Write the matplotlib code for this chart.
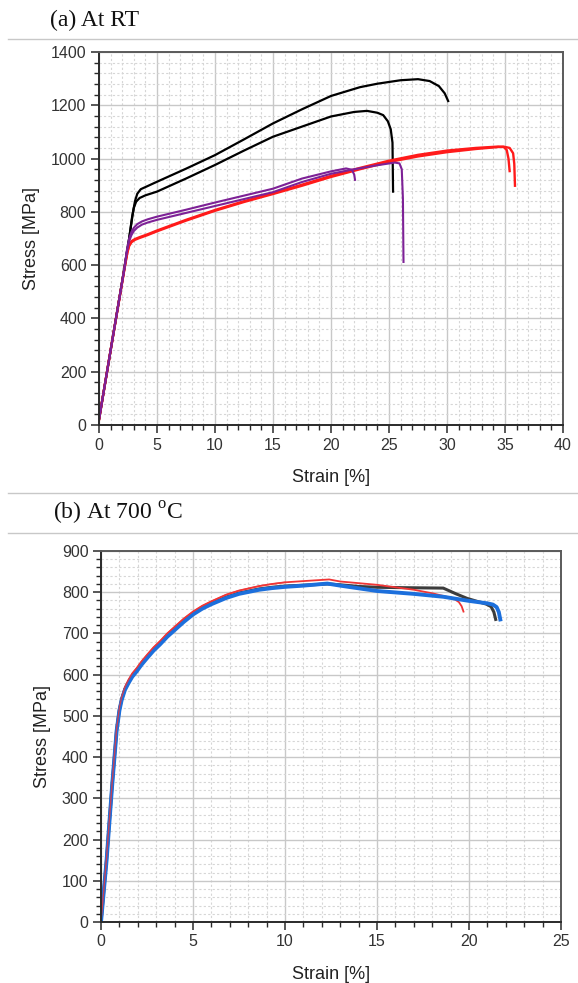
import matplotlib
matplotlib.use("Agg")
import matplotlib.pyplot as plt
from matplotlib.ticker import MultipleLocator
from matplotlib.lines import Line2D

plt.rcParams['font.family'] = ['Liberation Sans', 'DejaVu Sans']
plt.rcParams['mathtext.fontset'] = 'custom'
plt.rcParams['mathtext.rm'] = 'Liberation Serif'

# ---------------- (a) At RT ----------------
rt_black1_x = [0, 1.0, 2.0, 2.6, 2.9, 3.1, 3.3, 3.6, 4.0, 5.0, 7.5, 10, 12.5, 15, 17.5, 20, 22.5, 24, 26, 27.5, 28.5, 29.3, 29.8, 30.1]
rt_black1_y = [20, 280, 540, 700, 790, 840, 868, 885, 893, 913, 962, 1013, 1072, 1132, 1185, 1235, 1268, 1281, 1294, 1298, 1291, 1272, 1245, 1216]

rt_black2_x = [0, 1.0, 2.0, 2.6, 2.85, 3.0, 3.2, 3.5, 4.0, 5.0, 7.5, 10, 12.5, 15, 17.5, 20, 22.0, 23.1, 24.0, 24.5, 24.9, 25.15, 25.3, 25.35]
rt_black2_y = [20, 280, 540, 700, 780, 815, 838, 852, 862, 876, 925, 976, 1030, 1082, 1120, 1158, 1175, 1179, 1172, 1163, 1140, 1110, 1060, 876]

rt_purple1_x = [0, 1.0, 2.2, 2.4, 2.6, 2.8, 3.0, 3.3, 3.7, 4.2, 5.0, 7.5, 10, 12.5, 15, 17.5, 20, 21.3, 21.8, 22.0, 22.07]
rt_purple1_y = [20, 280, 590, 655, 700, 725, 740, 754, 764, 772, 782, 808, 835, 861, 887, 925, 952, 963, 958, 940, 920]

rt_purple2_x = [0, 1.0, 2.2, 2.4, 2.6, 2.8, 3.0, 3.3, 3.7, 4.2, 5.0, 7.5, 10, 12.5, 15, 17.5, 20, 22.0, 24.0, 25.5, 25.9, 26.1, 26.2, 26.25]
rt_purple2_y = [20, 280, 590, 650, 690, 713, 728, 741, 752, 760, 770, 796, 822, 848, 874, 912, 943, 960, 975, 985, 982, 960, 850, 612]

rt_red1_x = [0, 1.0, 2.24, 2.45, 2.6, 2.8, 3.1, 3.5, 4.2, 5.0, 7.5, 10, 12.5, 15, 17.5, 20, 22.5, 25, 27.5, 30, 32.5, 34.4, 34.9, 35.15, 35.3, 35.4]
rt_red1_y = [20, 280, 598, 650, 675, 690, 698, 705, 716, 730, 770, 807, 840, 870, 902, 935, 965, 992, 1014, 1030, 1040, 1045, 1043, 1032, 1000, 953]

rt_red2_x = [0, 1.0, 2.24, 2.45, 2.6, 2.8, 3.1, 3.5, 4.2, 5.0, 7.5, 10, 12.5, 15, 17.5, 20, 22.5, 25, 27.5, 30, 32.5, 34.85, 35.4, 35.7, 35.8, 35.86]
rt_red2_y = [20, 280, 598, 648, 672, 686, 695, 702, 713, 727, 767, 804, 837, 867, 898, 931, 960, 987, 1008, 1024, 1036, 1045, 1040, 1020, 980, 898]

# ---------------- (b) At 700 C ----------------
ht_gray_x = [0, 0.3, 0.6, 0.85, 1.0, 1.12, 1.3, 1.5, 1.7, 1.94, 2.2, 2.5, 2.85, 3.2, 3.6, 4.0, 4.5, 5.0, 5.5, 6.0, 6.8, 7.5, 8.6, 9.3, 10, 11, 12.3, 13, 14, 15, 16.5, 18.6, 19.3, 19.9, 20.5, 20.95, 21.2, 21.35, 21.45]
ht_gray_y = [0, 150, 330, 466, 515, 540, 565, 582, 597, 610, 626, 642, 660, 675, 694, 710, 730, 748, 762, 773, 788, 798, 808, 812, 815, 817, 820, 818, 814, 812, 811, 810, 796, 785, 777, 771, 765, 752, 734]

ht_red_x = [0, 0.3, 0.6, 0.85, 1.0, 1.12, 1.3, 1.5, 1.7, 1.94, 2.2, 2.5, 2.85, 3.2, 3.6, 4.0, 4.5, 5.0, 5.5, 6.0, 6.8, 7.5, 8.6, 9.3, 10, 11, 12.4, 13, 15, 17, 18.05, 19.15, 19.45, 19.6, 19.7]
ht_red_y = [0, 155, 335, 470, 520, 545, 570, 588, 603, 616, 632, 648, 666, 681, 700, 716, 736, 753, 767, 778, 794, 804, 815, 820, 824, 827, 831, 826, 818, 806, 797, 785, 776, 766, 753]

ht_blue_x = [0, 0.3, 0.6, 0.85, 1.0, 1.12, 1.3, 1.5, 1.7, 1.94, 2.2, 2.5, 2.85, 3.2, 3.6, 4.0, 4.5, 5.0, 5.5, 6.0, 6.8, 7.5, 8.6, 9.3, 10, 11, 12.3, 13, 15, 17, 18.6, 20, 21.0, 21.3, 21.5, 21.62, 21.7]
ht_blue_y = [0, 148, 328, 464, 513, 538, 563, 580, 595, 608, 624, 640, 658, 673, 692, 708, 728, 746, 760, 771, 786, 796, 806, 810, 813, 816, 821, 816, 803, 796, 789, 779, 773, 770, 764, 752, 734]

W, H = 578, 983
fig = plt.figure(figsize=(W / 100, H / 100), dpi=100)

def style_axes(ax, xmax, ymax, xmaj, ymaj, xmin, ymin):
    ax.set_xlim(0, xmax)
    ax.set_ylim(0, ymax)
    ax.xaxis.set_major_locator(MultipleLocator(xmaj))
    ax.yaxis.set_major_locator(MultipleLocator(ymaj))
    ax.xaxis.set_minor_locator(MultipleLocator(xmin))
    ax.yaxis.set_minor_locator(MultipleLocator(ymin))
    ax.grid(which='major', color='#c8c8c8', lw=1.0, ls='-')
    ax.grid(which='minor', color='#d6d6d6', lw=0.8, ls=(0, (2, 2)))
    ax.set_axisbelow(True)
    for s in ('left', 'bottom'):
        ax.spines[s].set_color('#2a2a2a')
        ax.spines[s].set_linewidth(1.4)
    for s in ('top', 'right'):
        ax.spines[s].set_color('#5a5a5a')
        ax.spines[s].set_linewidth(1.4)
    ax.tick_params(which='major', direction='out', length=6, width=1.1, color='#2a2a2a',
                   labelsize=11.5, labelcolor='#333333', pad=3)
    ax.tick_params(which='minor', direction='out', length=3.5, width=1.0, color='#2a2a2a')
    ax.set_xlabel('Strain [%]', fontsize=13, color='#222222', labelpad=12)
    ax.set_ylabel('Stress [MPa]', fontsize=13, color='#222222', labelpad=8)

# top axes
ax1 = fig.add_axes([99 / W, 1 - 425 / H, 464 / W, 373 / H])
style_axes(ax1, 40, 1400, 5, 200, 1, 40)
purple = '#7d2196'
red = '#ff1a1a'
ax1.plot(rt_black1_x, rt_black1_y, color='black', lw=1.6)
ax1.plot(rt_black2_x, rt_black2_y, color='black', lw=1.6)
ax1.plot(rt_red1_x, rt_red1_y, color=red, lw=1.7)
ax1.plot(rt_red2_x, rt_red2_y, color=red, lw=1.7)
ax1.plot(rt_purple1_x, rt_purple1_y, color=purple, lw=1.5)
ax1.plot(rt_purple2_x, rt_purple2_y, color=purple, lw=1.5)

# bottom axes
ax2 = fig.add_axes([101 / W, 1 - 922 / H, 460 / W, 371 / H])
style_axes(ax2, 25, 900, 5, 100, 1, 20)
ax2.plot(ht_gray_x, ht_gray_y, color='#3c3c3c', lw=2.2)
ax2.plot(ht_red_x, ht_red_y, color='#f03535', lw=1.3)
ax2.plot(ht_blue_x, ht_blue_y, color='#1c6fdc', lw=2.8)
ax2.plot(ht_red_x[:25], ht_red_y[:25], color='#f03535', lw=1.0, alpha=0.8)

# separators
for yp in (39, 493, 533):
    fig.add_artist(Line2D([8 / W, 1.0], [1 - yp / H, 1 - yp / H], transform=fig.transFigure,
                          color='#c8c8c8', lw=1.0))

fig.text(50 / W, 1 - 20 / H, '(a) At RT', fontsize=17, family='Liberation Serif',
         ha='left', va='center', color='#111111')
fig.text(53 / W, 1 - 513 / H, r'(b) At 700 $^{\rm o}$C', fontsize=17, family='Liberation Serif',
         ha='left', va='center', color='#111111')

fig.savefig('out.png', dpi=100, facecolor='white')
